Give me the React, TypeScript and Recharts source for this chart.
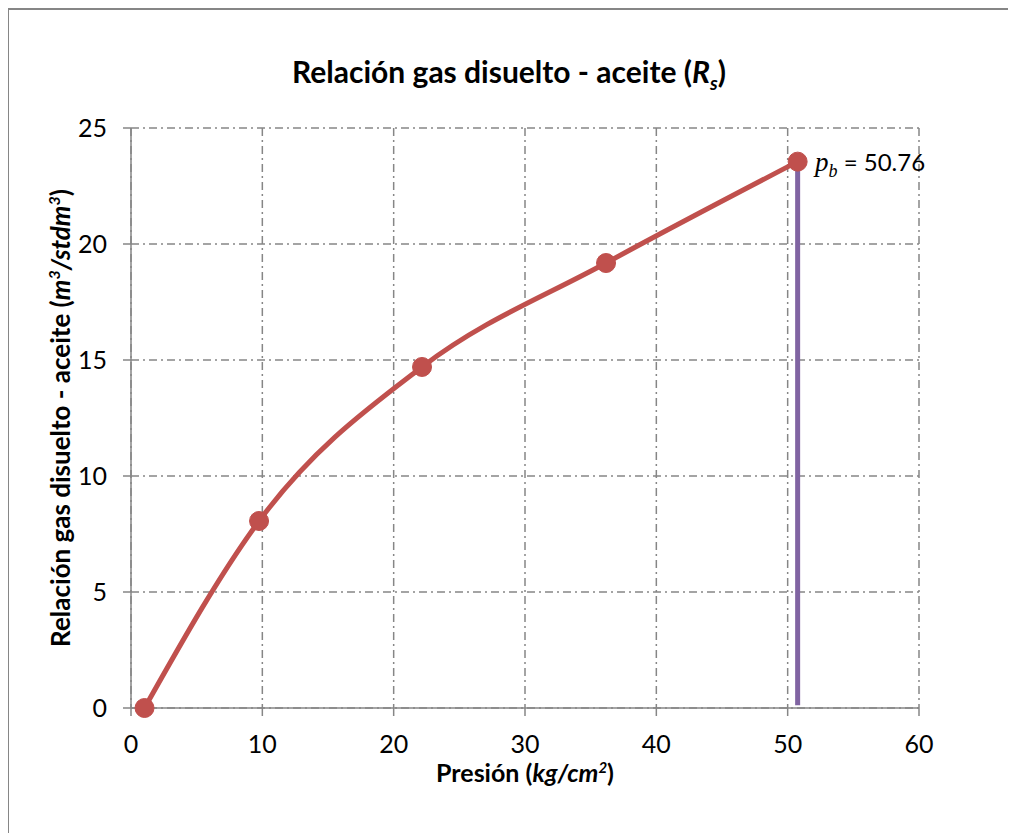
import React from 'react';
import { LineChart, Line, XAxis, YAxis, CartesianGrid } from 'recharts';

// Presión (kg/cm2) vs Rs (m3/stdm3)
const presion = [1.03, 9.75, 22.16, 36.17, 50.76];
const rs = [0, 8.06, 14.7, 19.18, 23.55];

// vertical line at bubble point
const pbX = [50.76, 50.76];
const pbY = [0.12, 23.4];

const xTicks = [0, 10, 20, 30, 40, 50, 60];
const yTicks = [0, 5, 10, 15, 20, 25];

const rsData = presion.map((x, i) => ({ x, y: rs[i] }));
const pbData = pbX.map((x, i) => ({ x, y: pbY[i] }));

const RED = '#C0504D';
const PURPLE = '#8064A2';
const GRAY = '#868686';
const FONT = 'Lato, "Open Sans", sans-serif';

const App: React.FC = () => {
  return (
    <div
      style={{
        position: 'relative',
        width: 1008,
        height: 825,
        marginLeft: -1,
        boxSizing: 'border-box',
        borderTop: `2px solid ${GRAY}`,
        borderLeft: `2px solid ${GRAY}`,
        fontFamily: FONT,
        color: '#000',
        overflow: 'hidden',
      }}
    >
      <div style={{ position: 'absolute', left: 0, top: 0 }}>
        <LineChart
          width={1000}
          height={815}
          margin={{ top: 118, right: 90, bottom: 57, left: 62 }}
        >
          <CartesianGrid stroke={GRAY} strokeWidth={1.5} strokeDasharray="8 4 2 4" />
          <XAxis
            dataKey="x"
            type="number"
            domain={[0, 60]}
            ticks={xTicks}
            interval={0}
            height={60}
            stroke={GRAY}
            strokeWidth={1.5}
            tickSize={8}
            tickMargin={19}
            tick={{ fill: '#000', fontSize: 25, fontFamily: FONT }}
          />
          <YAxis
            dataKey="y"
            type="number"
            domain={[0, 25]}
            ticks={yTicks}
            interval={0}
            width={60}
            stroke={GRAY}
            strokeWidth={1.5}
            tickSize={8}
            tickMargin={16}
            tick={{ fill: '#000', fontSize: 25, fontFamily: FONT }}
          />
          <Line
            data={rsData}
            dataKey="y"
            type="monotone"
            stroke={RED}
            strokeWidth={5}
            dot={{ r: 9.5, fill: RED, stroke: RED, strokeWidth: 1 }}
            activeDot={false}
            isAnimationActive={false}
          />
          <Line
            data={pbData}
            dataKey="y"
            type="linear"
            stroke={PURPLE}
            strokeWidth={5}
            dot={false}
            activeDot={false}
            isAnimationActive={false}
          />
        </LineChart>
      </div>

      <div
        style={{
          position: 'absolute',
          left: 0,
          width: 1000,
          top: 43,
          textAlign: 'center',
          fontWeight: 'bold',
          fontSize: 30,
        }}
      >
        Relación gas disuelto - aceite (<i>R<sub style={{ fontSize: 19 }}>s</sub></i>)
      </div>

      <div
        style={{
          position: 'absolute',
          left: 122,
          width: 788,
          top: 749,
          height: 26,
          lineHeight: '26px',
          textAlign: 'center',
          fontWeight: 'bold',
          fontSize: 25,
        }}
      >
        Presión (<i>kg/cm<sup style={{ fontSize: 15, lineHeight: 0 }}>2</sup></i>)
      </div>

      <div
        style={{
          position: 'absolute',
          left: 51,
          top: 408,
          width: 0,
          height: 0,
        }}
      >
        <div
          style={{
            position: 'absolute',
            left: 0,
            top: 0,
            transform: 'translate(-50%, -50%) rotate(-90deg)',
            whiteSpace: 'nowrap',
            fontWeight: 'bold',
            fontSize: 26,
          }}
        >
          Relación gas disuelto - aceite (<i>m<sup style={{ fontSize: 16 }}>3</sup>/stdm<sup style={{ fontSize: 16 }}>3</sup></i>)
        </div>
      </div>

      <div
        style={{
          position: 'absolute',
          left: 806,
          top: 137,
          fontSize: 24,
          whiteSpace: 'nowrap',
        }}
      >
        <span style={{ fontFamily: '"Liberation Serif", serif', fontStyle: 'italic', fontSize: 27 }}>
          p<sub style={{ fontSize: 18 }}>b</sub>
        </span>{' '}
        = 50.76
      </div>
    </div>
  );
};

export default App;
